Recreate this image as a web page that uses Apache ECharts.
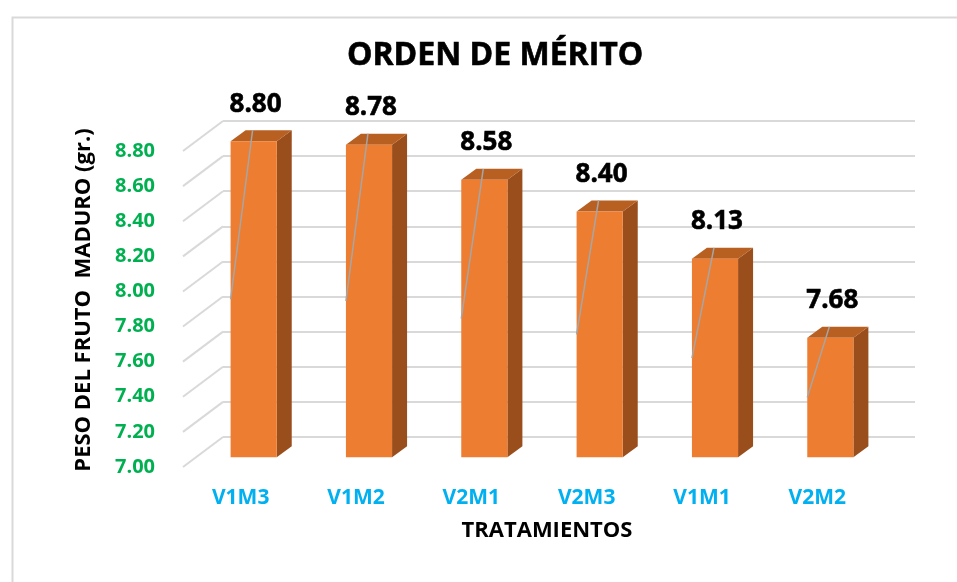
<!DOCTYPE html>
<html>
<head>
<meta charset="utf-8">
<script src="https://cdn.jsdelivr.net/npm/echarts@6/dist/echarts.min.js"></script>
<style>
  html, body { margin: 0; padding: 0; background: #fff; }
  #chart { width: 957px; height: 582px; }
</style>
</head>
<body>
<div id="chart"></div>
<script>
const categories = ['V1M3', 'V1M2', 'V2M1', 'V2M3', 'V1M1', 'V2M2']
const pesoValues = [8.80, 8.78, 8.58, 8.40, 8.13, 7.68]
const yTicks = [7.0, 7.2, 7.4, 7.6, 7.8, 8.0, 8.2, 8.4, 8.6, 8.8]

const FONT = '"Open Sans"'
const Y_MIN = 7
const Y_MAX = 8.8
// depth of the floor/wall (pixels), and bar position inside it
const DEPTH_X = 40
const DEPTH_Y = 30
const BAR_OFF_X = 13
const BAR_OFF_Y = 9.75
const BAR_DX = 15
const BAR_DY = 11

const chart = echarts.init(document.getElementById('chart'))

function renderDiagonal(params, api) {
  const y = api.coord([0, api.value(0)])[1]
  const x0 = params.coordSys.x
  return {
    type: 'line',
    shape: { x1: x0, y1: y, x2: x0 + DEPTH_X, y2: y - DEPTH_Y },
    style: { stroke: '#D9D9D9', lineWidth: 2 }
  }
}

function renderBar(params, api) {
  const idx = api.value(0)
  const v = api.value(1)
  const top = api.coord([idx, v])
  const base = api.coord([idx, Y_MIN])
  const mid = api.coord([idx, (v + Y_MIN) / 2])
  const slot = api.size([1, 0])[0]
  const w = slot * 0.4
  const fx = top[0] - w / 2 + BAR_OFF_X
  const ft = top[1] - BAR_OFF_Y
  const fb = base[1] - BAR_OFF_Y
  return {
    type: 'group',
    children: [
      {
        type: 'polygon',
        shape: { points: [[fx + w, ft], [fx + w + BAR_DX, ft - BAR_DY], [fx + w + BAR_DX, fb - BAR_DY], [fx + w, fb]] },
        style: { fill: '#9A4E1C' }
      },
      {
        type: 'polygon',
        shape: { points: [[fx, ft], [fx + BAR_DX, ft - BAR_DY], [fx + w + BAR_DX, ft - BAR_DY], [fx + w, ft]] },
        style: { fill: '#B85F22' }
      },
      {
        type: 'rect',
        shape: { x: fx, y: ft, width: w, height: fb - ft },
        style: { fill: '#ED7D31' }
      },
      {
        type: 'line',
        shape: { x1: fx, y1: mid[1] - BAR_OFF_Y, x2: fx + 22, y2: ft - BAR_DY },
        style: { stroke: '#A6A6A6', lineWidth: 1.5 }
      },
      {
        type: 'text',
        x: fx + 25,
        y: ft - BAR_DY - 26,
        style: {
          text: v.toFixed(2),
          fill: '#000',
          font: 'bold 26px ' + FONT,
          stroke: '#000',
          lineWidth: 0.6,
          align: 'center',
          verticalAlign: 'middle'
        }
      }
    ]
  }
}

const option = {
  animation: false,
  backgroundColor: '#fff',
  title: {
    text: 'ORDEN DE MÉRITO',
    left: 342,
    top: 35,
    textStyle: {
      fontFamily: FONT, fontWeight: 'bold', fontSize: 32, color: '#000',
      textBorderColor: '#000', textBorderWidth: 0.6
    }
  },
  graphic: [{
    type: 'rect',
    left: 10,
    top: 15,
    shape: { width: 1200, height: 1200 },
    style: { fill: 'none', stroke: '#D9D9D9', lineWidth: 2 },
    silent: true
  }],
  grid: [
    { left: 183, right: 82, top: 151, bottom: 115 },
    { left: 223, right: 42, top: 121, bottom: 145 }
  ],
  xAxis: [
    {
      type: 'category',
      gridIndex: 0,
      data: categories,
      axisLine: { show: false },
      axisTick: { show: false },
      axisLabel: {
        margin: 21,
        color: '#00B0F0',
        fontFamily: FONT,
        fontWeight: 'bold',
        fontSize: 21
      },
      name: 'TRATAMIENTOS',
      nameLocation: 'middle',
      nameGap: 53,
      nameTextStyle: {
        color: '#000',
        fontFamily: FONT,
        fontWeight: 'bold',
        fontSize: 22,
        padding: [0, 0, 0, 36]
      }
    },
    { type: 'value', gridIndex: 1, show: false, min: 0, max: 1 }
  ],
  yAxis: [
    {
      type: 'value',
      gridIndex: 0,
      min: Y_MIN,
      max: Y_MAX,
      interval: 0.2,
      splitLine: { show: false },
      axisLine: { show: false },
      axisTick: { show: false },
      axisLabel: {
        margin: 28,
        color: '#00B050',
        fontFamily: FONT,
        fontWeight: 'bold',
        fontSize: 20,
        formatter: v => v.toFixed(2)
      },
      name: 'PESO DEL FRUTO  MADURO (gr.)',
      nameLocation: 'middle',
      nameGap: 88,
      nameTextStyle: {
        color: '#000',
        fontFamily: FONT,
        fontWeight: 'bold',
        fontSize: 22,
        padding: [0, 0, 0, 18]
      }
    },
    {
      type: 'value',
      gridIndex: 1,
      min: Y_MIN,
      max: Y_MAX,
      interval: 0.2,
      axisLine: { show: false },
      axisTick: { show: false },
      axisLabel: { show: false },
      splitLine: { lineStyle: { color: '#D9D9D9', width: 2 } }
    }
  ],
  series: [
    {
      type: 'custom',
      name: 'diagonales',
      xAxisIndex: 0,
      yAxisIndex: 0,
      silent: true,
      renderItem: renderDiagonal,
      data: yTicks.map(t => [t])
    },
    {
      type: 'custom',
      name: 'Peso',
      xAxisIndex: 0,
      yAxisIndex: 0,
      renderItem: renderBar,
      encode: { x: 0, y: 1 },
      data: categories.map((c, i) => [i, pesoValues[i]]),
      z: 3
    }
  ]
}

chart.setOption(option)
</script>
</body>
</html>
